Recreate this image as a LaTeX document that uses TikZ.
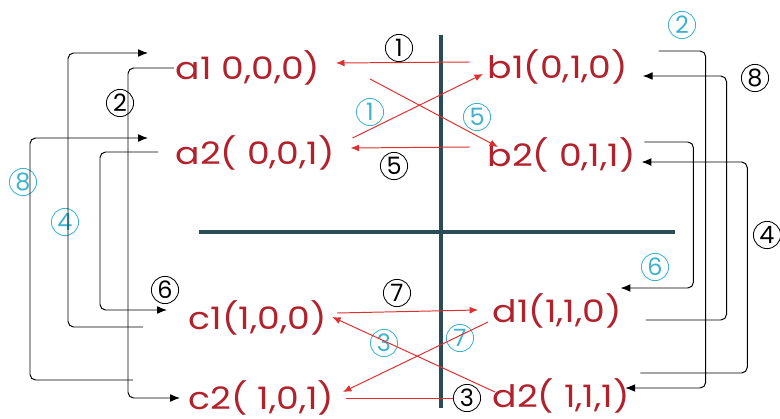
\documentclass[tikz,border=0pt]{standalone}
\usepackage{fontspec}
\setmainfont{Poppins}
\newfontfamily\statefont[FakeStretch=1.17]{Poppins}
\usetikzlibrary{arrows.meta,calc}
\definecolor{statered}{RGB}{178,34,44}
\definecolor{arrowred}{RGB}{222,48,48}
\definecolor{axisgray}{RGB}{42,76,86}
\definecolor{numcyan}{RGB}{62,178,206}
\begin{document}
\begin{tikzpicture}[x=0.025cm,y=-0.025cm,
  state/.style={anchor=west,inner sep=1pt,text=statered,font=\statefont\fontsize{22}{24}\selectfont},
  num/.style={circle,draw,line width=0.6pt,minimum size=0.68cm,inner sep=0pt,font=\fontsize{17}{19}\selectfont},
  bnum/.style={num,draw=black,text=black},
  cnum/.style={num,draw=numcyan,text=numcyan},
  redarrow/.style={arrowred,line width=0.7pt,-{Latex[length=6pt,width=5pt]}},
  link/.style={black,line width=0.7pt,rounded corners=4pt,-{Latex[length=7pt,width=5.5pt]}},
  axis/.style={axisgray,line width=2.6pt}]
\useasboundingbox (0,0) rectangle (780,419);
\draw[axis] (441,35) -- (441,408);
\draw[axis] (199,232) -- (675,232);
\node[state] (a1) at (174,68) {a1 0,0,0)};
\node[state] (a2) at (174,153) {a2( 0,0,1)};
\node[state] (b1) at (486,67) {b1(0,1,0)};
\node[state] (b2) at (486,155) {b2( 0,1,1)};
\node[state] (c1) at (187,318) {c1(1,0,0)};
\node[state] (c2) at (187,398) {c2( 1,0,1)};
\node[state] (d1) at (491,311) {d1(1,1,0)};
\node[state] (d2) at (491,396) {d2( 1,1,1)};
\node[bnum] (bk1) at (399,48) {1};
\node[cnum] (cy1) at (370,112) {1};
\node[cnum] (cy5) at (477,117) {5};
\node[bnum] (bk5) at (394,166) {5};
\node[bnum] (bk7) at (397,293) {7};
\node[cnum] (cy3) at (384,343) {3};
\node[cnum] (cy7) at (460,338) {7};
\node[bnum] (bk3) at (467,398) {3};
\node[bnum] (bk2) at (120,103) {2};
\node[cnum] (cy8) at (23,182) {8};
\node[cnum] (cy4) at (65,222) {4};
\node[bnum] (bk6) at (165,290) {6};
\node[cnum] (cy2) at (682,25) {2};
\node[bnum] (bk8) at (755,78) {8};
\node[cnum] (cy6) at (655,267) {6};
\node[bnum] (bk4) at (767,235) {4};
\draw[redarrow] ($(b1.west)+(-16,-5)$) -- ($(a1.east)+(14,-5)$);
\draw[redarrow] ($(a2.east)+(16,-15)$) -- ($(b1.west)+(-3,7)$);
\draw[redarrow] ($(a1.east)+(48,11)$) -- ($(b2.west)+(12,-8)$);
\draw[redarrow] ($(b2.west)+(-16,-8)$) -- ($(a2.east)+(14,-5)$);
\draw[redarrow] ($(c1.east)+(9,-5)$) -- ($(d1.west)+(-13,-1)$);
\draw[redarrow] ($(d2.west)+(4,-4)$) -- ($(c1.east)+(4,-1)$);
\draw[redarrow] ($(d1.west)+(-3,11)$) -- ($(c2.east)+(7,-6)$);
\draw[arrowred,line width=0.7pt] ($(c2.east)+(10,0)$) -- (bk3.west);
\draw[link] (a1.west) -- ++(-46,0) |- ($(c2.west)+(-7,0)$);
\draw[link] ($(c1.west)+(-44,9)$) -- ++(-75,0) |- ($(a1.west)+(-26,-15)$);
\draw[link] ($(a2.west)+(-16,-1)$) -- ++(-58,0) |- ($(c1.west)+(-20,-8)$);
\draw[link] ($(c2.west)+(-54,-18)$) -- ++(-103,0) |- ($(a2.west)+(-26,-15)$);
\draw[link] ($(b1.east)+(29,-16)$) -- ++(47,0) |- ($(d2.east)+(-6,-8)$);
\draw[link] ($(d1.east)+(22,9)$) -- ++(81,0) |- ($(b1.east)+(13,9)$);
\draw[link] ($(b2.east)+(7,-13)$) -- ++(49,0) |- ($(d1.east)+(-3,-23)$);
\draw[link] ($(d2.east)+(9,-23)$) -- ++(107,0) |- ($(b2.east)+(4,7)$);
\end{tikzpicture}
\end{document}
